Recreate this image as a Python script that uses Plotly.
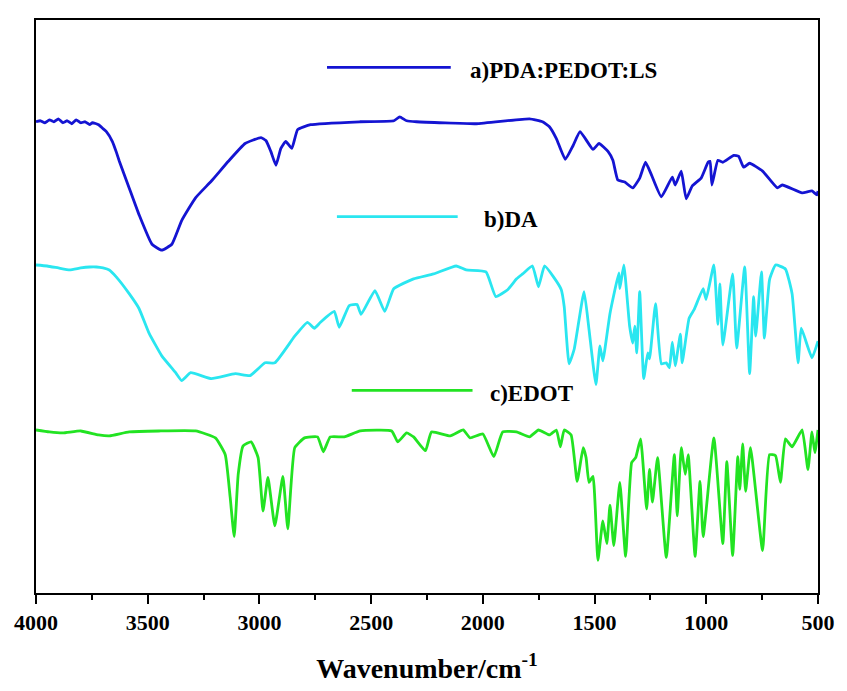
import plotly.graph_objects as go

# wavenumber (cm^-1) and relative transmittance (arbitrary, offset) for each spectrum
wn_a = [4000, 3980, 3960, 3940, 3920, 3900, 3880, 3860, 3840, 3820, 3800, 3780, 3760, 3747, 3720, 3700, 3685, 3658, 3640, 3627, 3583, 3539, 3481, 3437, 3392, 3348, 3286, 3215, 3139, 3064, 2993, 2971, 2949, 2926, 2904, 2882, 2855, 2829, 2771, 2549, 2398, 2372, 2341, 2297, 2030, 1791, 1733, 1702, 1671, 1631, 1596, 1565, 1507, 1480, 1440, 1418, 1396, 1365, 1329, 1298, 1272, 1245, 1201, 1152, 1139, 1112, 1090, 1063, 1023, 992, 983, 975, 948, 926, 877, 855, 833, 806, 748, 682, 660, 571, 527, 505, 500]
tr_a = [477, 478, 476, 479, 477, 480, 476, 478, 475, 479, 476, 477, 474, 476, 474, 470, 467, 457, 446, 437, 410, 383, 353, 347, 353, 377, 400, 417, 437, 455, 461, 458, 447, 433, 450, 457, 450, 469, 474, 477, 478, 482, 478, 477, 475, 480, 477, 472, 460, 439, 453, 467, 449, 455, 447, 438, 418, 416, 410, 420, 436, 423, 401, 421, 413, 427, 399, 412, 420, 436, 437, 413, 438, 436, 443, 442, 431, 435, 427, 410, 413, 405, 407, 403, 407]

wn_b = [4000, 3950, 3900, 3849, 3800, 3760, 3729, 3700, 3672, 3641, 3583, 3539, 3494, 3437, 3375, 3348, 3308, 3215, 3108, 3042, 2975, 2931, 2842, 2785, 2754, 2727, 2665, 2643, 2598, 2563, 2545, 2483, 2439, 2399, 2310, 2221, 2119, 2075, 1986, 1942, 1889, 1849, 1822, 1778, 1751, 1724, 1684, 1649, 1636, 1614, 1591, 1547, 1525, 1494, 1476, 1463, 1431, 1391, 1387, 1369, 1343, 1329, 1320, 1311, 1298, 1280, 1262, 1254, 1227, 1201, 1179, 1165, 1152, 1139, 1116, 1108, 1077, 1054, 1014, 1001, 966, 948, 939, 926, 882, 864, 828, 806, 788, 779, 753, 740, 717, 690, 646, 616, 589, 575, 527, 500]
tr_b = [332, 331, 329, 327, 329, 330, 330, 329, 327, 320, 303, 288, 263, 240, 223, 215, 223, 217, 222, 220, 233, 233, 260, 274, 268, 274, 285, 269, 291, 292, 282, 306, 285, 308, 318, 323, 331, 327, 325, 300, 307, 318, 323, 331, 310, 331, 320, 307, 290, 232, 247, 305, 267, 211, 250, 235, 283, 324, 308, 332, 270, 253, 270, 243, 305, 217, 243, 237, 293, 232, 233, 228, 254, 230, 262, 233, 278, 287, 308, 297, 332, 272, 313, 251, 323, 248, 330, 222, 300, 260, 325, 258, 317, 332, 328, 303, 233, 268, 238, 255]

wn_c = [4000, 3940, 3880, 3800, 3720, 3672, 3583, 3450, 3286, 3197, 3153, 3131, 3113, 3095, 3073, 3037, 3006, 2984, 2962, 2931, 2895, 2873, 2842, 2798, 2740, 2714, 2683, 2620, 2549, 2408, 2381, 2341, 2310, 2257, 2230, 2146, 2088, 2057, 2000, 1951, 1911, 1849, 1791, 1751, 1702, 1671, 1653, 1636, 1605, 1578, 1551, 1538, 1525, 1507, 1485, 1463, 1445, 1431, 1414, 1387, 1361, 1334, 1316, 1294, 1267, 1254, 1241, 1218, 1179, 1143, 1130, 1112, 1094, 1081, 1050, 1028, 1014, 966, 926, 908, 882, 859, 850, 837, 824, 802, 748, 717, 690, 668, 646, 616, 571, 545, 527, 514, 500]
tr_c = [165, 163, 162, 164, 160, 159, 163, 164, 164, 157, 140, 97, 57, 120, 149, 153, 137, 83, 117, 68, 118, 65, 147, 157, 158, 143, 158, 158, 164, 164, 153, 162, 158, 144, 163, 159, 165, 157, 161, 138, 163, 163, 158, 165, 160, 165, 148, 165, 160, 113, 147, 137, 112, 118, 33, 73, 50, 89, 48, 112, 37, 132, 137, 156, 85, 125, 92, 137, 36, 140, 78, 147, 120, 140, 37, 113, 57, 157, 50, 133, 38, 138, 105, 151, 103, 147, 43, 140, 139, 112, 156, 148, 165, 125, 163, 142, 165]

names = ["a)PDA:PEDOT:LS", "b)DA", "c)EDOT"]
colors = ["#1414d2", "#2ae6f0", "#22e322"]
x_ticks = [4000, 3500, 3000, 2500, 2000, 1500, 1000, 500]

SERIF = "Liberation Serif, Times New Roman, serif"

fig = go.Figure()
for wn, tr, name, col in zip([wn_a, wn_b, wn_c], [tr_a, tr_b, tr_c], names, colors):
    fig.add_trace(go.Scatter(x=wn, y=tr, mode="lines", name=name,
                             line=dict(color=col, width=2.8, shape="spline", smoothing=0.4),
                             showlegend=False))

# in-plot legend: line sample + label
W, H, L, T, R, B = 847, 691, 36, 20, 21, 91
pw, ph = W - L - R, H - T - B
leg = [(330, 455, 68, 472), (340, 462, 219, 487), (355, 477, 395, 493)]
for (x0, x1, y, tx), name, col in zip(leg, names, colors):
    fig.add_shape(type="line", xref="paper", yref="paper",
                  x0=(x0 - L) / pw, x1=(x1 - L) / pw,
                  y0=1 - (y - T) / ph, y1=1 - (y - T) / ph,
                  line=dict(color=col, width=2.8))
    fig.add_annotation(xref="paper", yref="paper", x=(tx - L) / pw, y=1 - (y + 3 - T) / ph,
                       text="<b>%s</b>" % name, showarrow=False, xanchor="left", yanchor="middle",
                       font=dict(family=SERIF, size=23, color="black"))

fig.update_layout(
    width=W, height=H, margin=dict(l=L, r=R, t=T, b=B),
    paper_bgcolor="white", plot_bgcolor="white",
    xaxis=dict(range=[4000, 500], tickvals=x_ticks, ticktext=["<b>%d</b>" % v for v in x_ticks],
               ticks="outside", ticklen=9, tickwidth=2,
               tickcolor="black", showline=True, linecolor="black", linewidth=2, mirror=True,
               showgrid=False, zeroline=False,
               minor=dict(ticks="outside", ticklen=5, tickwidth=2, dtick=250, tickcolor="black", showgrid=False),
               tickfont=dict(family=SERIF, size=22, color="black"),
               title=dict(text="<b>Wavenumber/cm<sup>-1</sup></b>", standoff=24,
                          font=dict(family=SERIF, size=28, color="black"))),
    yaxis=dict(range=[0, 580], showticklabels=False, ticks="", showline=True, linecolor="black",
               linewidth=2, mirror=True, showgrid=False, zeroline=False),
)
fig.write_html("out.html")
